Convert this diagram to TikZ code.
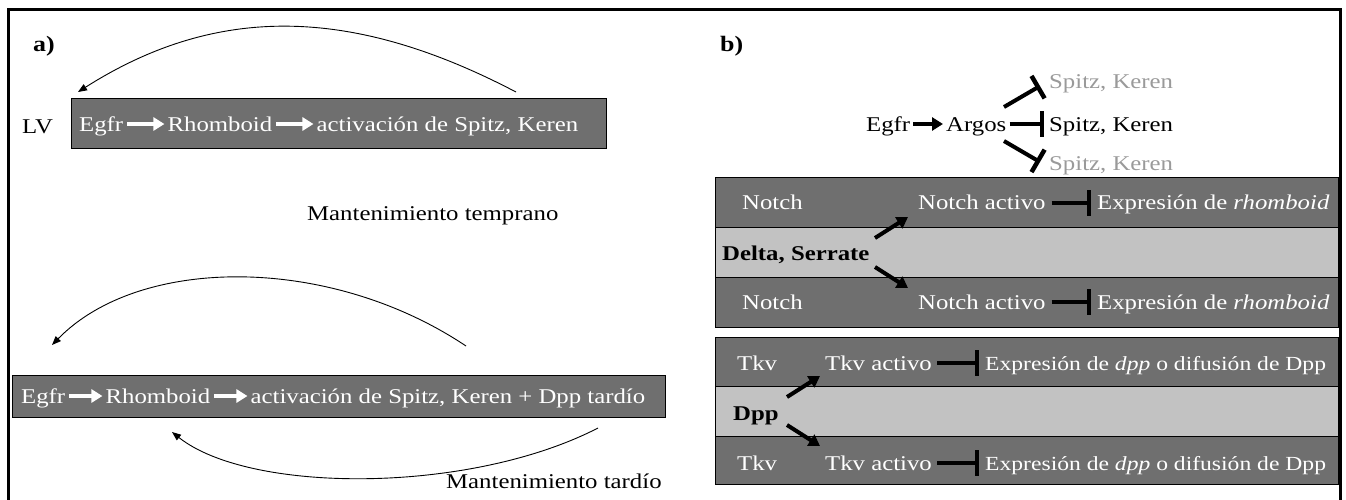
\documentclass[tikz,border=0pt]{standalone}
\usepackage{fontspec}
\setmainfont{Liberation Serif}[FakeStretch=1.18]
\usetikzlibrary{arrows.meta}
\definecolor{darkband}{HTML}{6F6F6F}
\definecolor{lightband}{HTML}{C2C2C2}
\definecolor{fadedtext}{HTML}{9A9A9A}
\begin{document}
\begin{tikzpicture}[x=1pt,y=-1pt,
  txt/.style={inner sep=0pt, anchor=base west, font=\fontsize{21}{25}\selectfont},
  wtxt/.style={txt, text=white},
  btxt/.style={txt, font=\fontsize{21}{25}\selectfont\bfseries},
  gtxt/.style={txt, text=fadedtext},
  panel/.style={inner sep=0pt, font=\fontsize{22}{26}\selectfont\bfseries, anchor=base west},
  dbox/.style={draw=black, line width=1.2pt, fill=darkband, anchor=north west, inner sep=0pt},
  lbox/.style={draw=black, line width=1.2pt, fill=lightband, anchor=north west, inner sep=0pt},
  warrow/.style={white, line width=4pt, -{Triangle[length=11pt,width=13pt]}, shorten <=4pt, shorten >=3pt},
  barrow/.style={black, line width=4pt, -{Triangle[length=11pt,width=13pt]}},
  inhib/.style={black, line width=4pt, -{Bar[width=26pt,line width=4.5pt]}},
  loop/.style={black, line width=0.9pt, -{Triangle[length=9pt,width=7pt]}}
]
\useasboundingbox (0,0) rectangle (1346,499);
% outer frame, open at the bottom
\draw[line width=3pt] (8,505) -- (8,9) -- (1340,9) -- (1340,505);

%% ---------- panel a ----------
\node[panel] (la) at (33,51) {a)};
\node[txt] (lv) at (22,133) {LV};

% early maintenance
\node[dbox, minimum width=535pt, minimum height=50pt] (box1) at (71,98) {};
\node[wtxt] (a1egfr) at (79,131) {Egfr};
\node[wtxt] (a1rho) at ([xshift=44pt]a1egfr.base east) {Rhomboid};
\node[wtxt] (a1act) at ([xshift=44pt]a1rho.base east) {activación de Spitz, Keren};
\draw[warrow] (a1egfr.east |- 0,124) -- (a1rho.west |- 0,124);
\draw[warrow] (a1rho.east |- 0,124) -- (a1act.west |- 0,124);
\coordinate (c1s) at (516,92);
\coordinate (c1e) at (78,92);
\draw[loop] (c1s) .. controls (350,5) and (215,5) .. (c1e);
\node[txt] (mt1) at (307,220) {Mantenimiento temprano};

% late maintenance
\node[dbox, minimum width=653pt, minimum height=42pt] (box2) at (12,375) {};
\node[wtxt] (a2egfr) at (21,403) {Egfr};
\node[wtxt] (a2rho) at ([xshift=40pt]a2egfr.base east) {Rhomboid};
\node[wtxt] (a2act) at ([xshift=40pt]a2rho.base east) {activación de Spitz, Keren + Dpp tardío};
\draw[warrow] (a2egfr.east |- 0,396) -- (a2rho.west |- 0,396);
\draw[warrow] (a2rho.east |- 0,396) -- (a2act.west |- 0,396);
\coordinate (c2s) at (466,346);
\coordinate (c2e) at (52,345);
\draw[loop] (c2s) .. controls (330,255) and (140,255) .. (c2e);
\coordinate (c3s) at (598,428);
\coordinate (c3e) at (172,432);
\draw[loop] (c3s) .. controls (470,494) and (250,494) .. (c3e);
\node[txt] (mt2) at (446,488) {Mantenimiento tardío};

%% ---------- panel b ----------
\node[panel] (lb) at (720,51) {b)};
\node[txt] (begfr) at (866,131) {Egfr};
\node[txt] (bargos) at (946,131) {Argos};
\node[gtxt] (sk1) at (1049,88) {Spitz, Keren};
\node[txt] (sk2) at (1049,131) {Spitz, Keren};
\node[gtxt] (sk3) at (1049,170) {Spitz, Keren};
\draw[barrow] ([xshift=3pt]begfr.east |- 0,124) -- ([xshift=-3pt]bargos.west |- 0,124);
\draw[inhib] ([xshift=3pt]bargos.east |- 0,124) -- ([xshift=-5pt]sk2.west |- 0,124);
\coordinate (t1s) at (1004,107);
\coordinate (t3s) at (1004,141);
\draw[inhib] (t1s) -- (1040,86);
\draw[inhib] (t3s) -- (1040,162);

% Notch / Delta, Serrate
\node[dbox, minimum width=623pt, minimum height=50pt] (n1) at (715,177) {};
\node[lbox, minimum width=623pt, minimum height=50pt] (n2) at (715,227) {};
\node[dbox, minimum width=623pt, minimum height=50pt] (n3) at (715,277) {};
\node[wtxt] (notch1) at (742,209) {Notch};
\node[wtxt] (nact1) at (918,209) {Notch activo};
\node[wtxt] (nexp1) at (1097,209) {Expresión de \textit{rhomboid}};
\node[btxt] (delta) at (722,260) {Delta, Serrate};
\node[wtxt] (notch3) at (742,309) {Notch};
\node[wtxt] (nact3) at (918,309) {Notch activo};
\node[wtxt] (nexp3) at (1097,309) {Expresión de \textit{rhomboid}};
\draw[barrow] (875,238) -- (908,217);
\draw[barrow] (875,267) -- (908,288);
\draw[inhib] ([xshift=6pt]nact1.east |- 0,203) -- ([xshift=-6pt]nexp1.west |- 0,203);
\draw[inhib] ([xshift=6pt]nact3.east |- 0,302) -- ([xshift=-6pt]nexp3.west |- 0,302);

% Tkv / Dpp
\node[dbox, minimum width=623pt, minimum height=49pt] (k1) at (715,337) {};
\node[lbox, minimum width=623pt, minimum height=50pt] (k2) at (715,386) {};
\node[dbox, minimum width=623pt, minimum height=48pt] (k3) at (715,436) {};
\node[wtxt] (tkv1) at (737,370) {Tkv};
\node[wtxt] (tact1) at (825,370) {Tkv activo};
\node[wtxt, font=\fontsize{20}{24}\selectfont] (texp1) at (985,370) {Expresión de \textit{dpp} o difusión de Dpp};
\node[btxt] (dpp) at (733,420) {Dpp};
\node[wtxt] (tkv3) at (737,470) {Tkv};
\node[wtxt] (tact3) at (825,470) {Tkv activo};
\node[wtxt, font=\fontsize{20}{24}\selectfont] (texp3) at (985,470) {Expresión de \textit{dpp} o difusión de Dpp};
\draw[barrow] (787,397) -- (820,376);
\draw[barrow] (787,425) -- (820,446);
\draw[inhib] ([xshift=5pt]tact1.east |- 0,363) -- ([xshift=-6pt]texp1.west |- 0,363);
\draw[inhib] ([xshift=5pt]tact3.east |- 0,463) -- ([xshift=-6pt]texp3.west |- 0,463);
\end{tikzpicture}
\end{document}
